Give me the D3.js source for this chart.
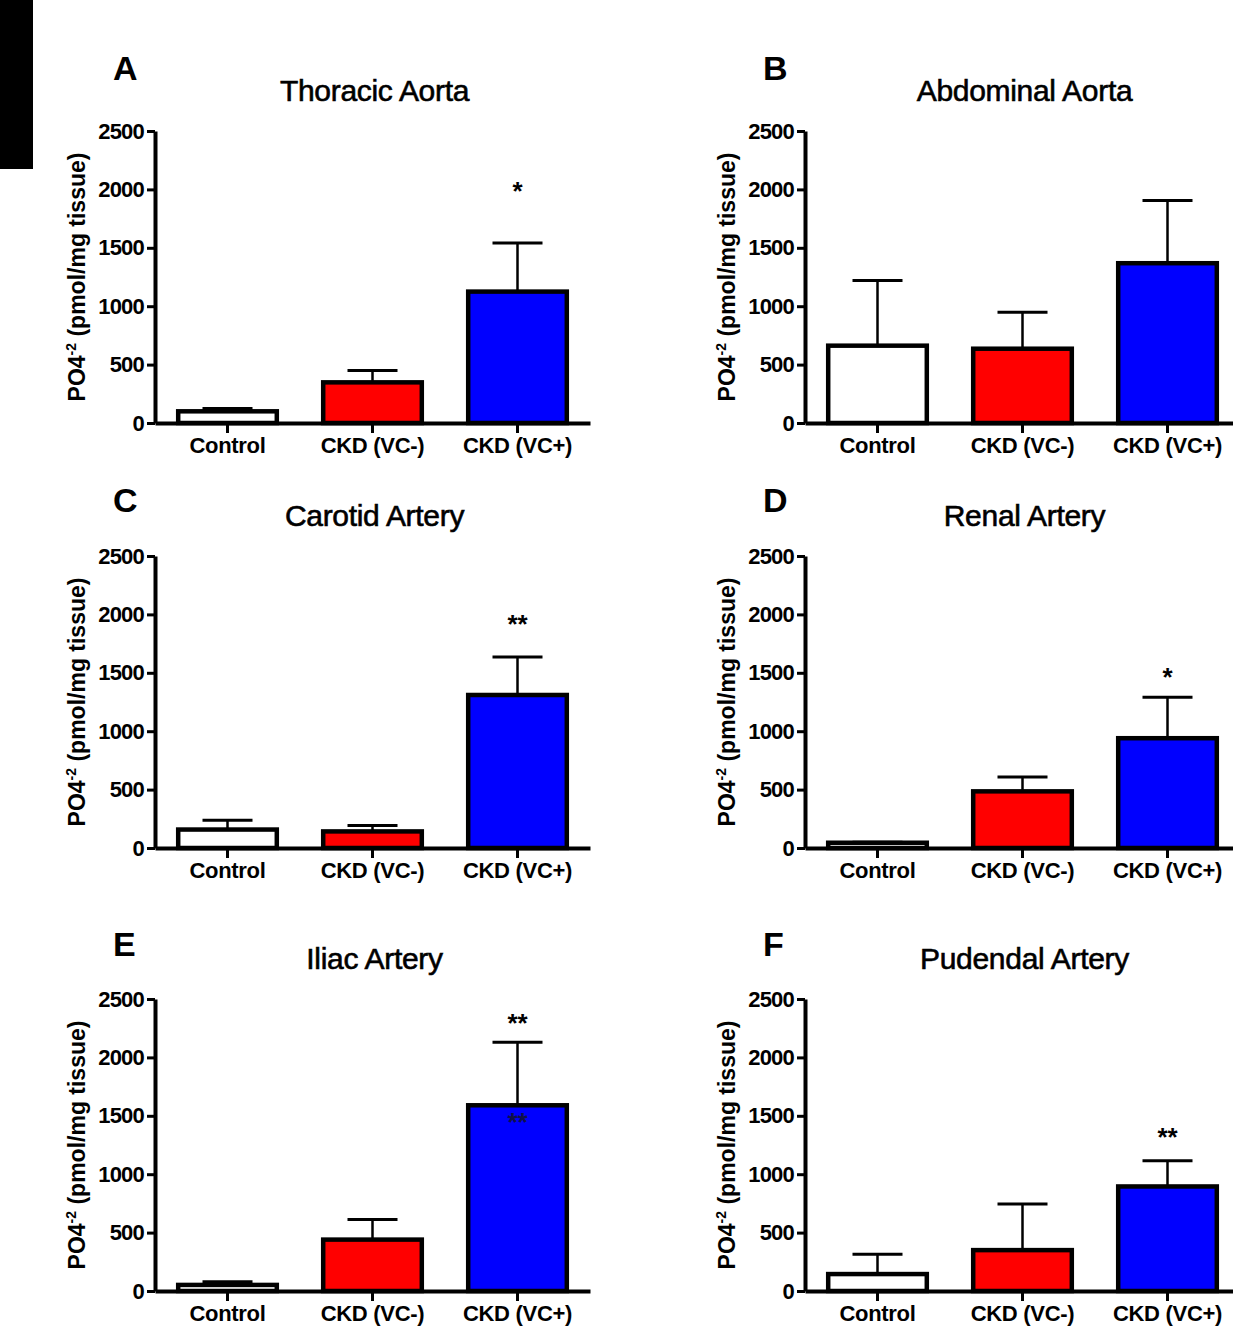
<!DOCTYPE html>
<html lang="en">
<head>
<meta charset="utf-8">
<title>PO4 content by vessel</title>
<script src="https://cdn.jsdelivr.net/npm/d3@7"></script>
<style>
  body { margin: 0; background: #fff; }
  text { font-family: "Liberation Sans", Arial, sans-serif; }
</style>
</head>
<body>
<script>
// groups and axis ticks
var categories = ["Control", "CKD (VC-)", "CKD (VC+)"];
var barColors = ["#ffffff", "#ff0000", "#0000ff"];
var yTicks = [0, 500, 1000, 1500, 2000, 2500];

var panelLetters = ["A", "B", "C", "D", "E", "F"];
var panelTitles = ["Thoracic Aorta", "Abdominal Aorta", "Carotid Artery",
                   "Renal Artery", "Iliac Artery", "Pudendal Artery"];

// mean and upper error (mean + SEM), pmol/mg tissue
var thoracicMeans = [100, 348, 1125];
var thoracicTops  = [125, 450, 1542];
var abdominalMeans = [662, 636, 1368];
var abdominalTops  = [1220, 948, 1905];
var carotidMeans = [158, 142, 1310];
var carotidTops  = [238, 193, 1635];
var renalMeans = [45, 485, 940];
var renalTops  = [50, 607, 1290];
var iliacMeans = [52, 440, 1590];
var iliacTops  = [80, 612, 2130];
var pudendalMeans = [145, 350, 895];
var pudendalTops  = [315, 745, 1115];

// significance marks, placed at a value level above CKD (VC+)
var thoracicStars = [{mark: "*", at: 2030}];
var abdominalStars = [];
var carotidStars = [{mark: "**", at: 1960}];
var renalStars = [{mark: "*", at: 1505}];
var iliacStars = [{mark: "**", at: 2335}, {mark: "**", at: 1490, inner: true}];
var pudendalStars = [{mark: "**", at: 1362}];

var panels = [
  {means: thoracicMeans, tops: thoracicTops, stars: thoracicStars},
  {means: abdominalMeans, tops: abdominalTops, stars: abdominalStars},
  {means: carotidMeans, tops: carotidTops, stars: carotidStars},
  {means: renalMeans, tops: renalTops, stars: renalStars},
  {means: iliacMeans, tops: iliacTops, stars: iliacStars},
  {means: pudendalMeans, tops: pudendalTops, stars: pudendalStars}
];

var w = 1233, h = 1329;
var colX = [155, 805];
var rowTop = [131, 556, 999];
var letterY = [80, 512, 956];
var plotW = 435, plotH = 292;

var svg = d3.select("body").append("svg")
  .attr("width", w)
  .attr("height", h);

svg.append("rect").attr("width", w).attr("height", h).attr("fill", "#fff");

// black strip at the top left
svg.append("rect")
  .attr("x", 0).attr("y", 0)
  .attr("width", 33).attr("height", 169)
  .attr("fill", "#000");

panels.forEach(function(p, i) {
  var col = i % 2, row = Math.floor(i / 2);
  var g = svg.append("g")
    .attr("transform", "translate(" + colX[col] + "," + rowTop[row] + ")");

  var x = d3.scaleBand()
    .domain(categories)
    .range([0, plotW])
    .paddingInner(0.32)
    .paddingOuter(0.16);

  var y = d3.scaleLinear()
    .domain([0, 2500])
    .range([plotH, 0]);

  var rows = categories.map(function(c, k) {
    return {cat: c, mean: p.means[k], top: p.tops[k], color: barColors[k]};
  });

  // bars
  g.selectAll("rect.bar")
    .data(rows)
    .enter()
    .append("rect")
    .attr("class", "bar")
    .attr("x", function(d) { return x(d.cat); })
    .attr("y", function(d) { return y(d.mean); })
    .attr("width", x.bandwidth())
    .attr("height", function(d) { return plotH - y(d.mean); })
    .attr("fill", function(d) { return d.color; })
    .attr("stroke", "#000")
    .attr("stroke-width", 4.5);

  // error bars (upper only)
  g.selectAll("line.stem")
    .data(rows)
    .enter()
    .append("line")
    .attr("x1", function(d) { return x(d.cat) + x.bandwidth() / 2; })
    .attr("x2", function(d) { return x(d.cat) + x.bandwidth() / 2; })
    .attr("y1", function(d) { return y(d.mean); })
    .attr("y2", function(d) { return y(d.top); })
    .attr("stroke", "#000")
    .attr("stroke-width", 2.5);

  g.selectAll("line.cap")
    .data(rows)
    .enter()
    .append("line")
    .attr("x1", function(d) { return x(d.cat) + x.bandwidth() / 2 - 25; })
    .attr("x2", function(d) { return x(d.cat) + x.bandwidth() / 2 + 25; })
    .attr("y1", function(d) { return y(d.top); })
    .attr("y2", function(d) { return y(d.top); })
    .attr("stroke", "#000")
    .attr("stroke-width", 3);

  // axes
  var yAxis = g.append("g")
    .call(d3.axisLeft(y).tickValues(yTicks).tickFormat(d3.format("d"))
      .tickSize(8).tickSizeOuter(0).tickPadding(3));
  var xAxis = g.append("g")
    .attr("transform", "translate(0," + plotH + ")")
    .call(d3.axisBottom(x).tickSize(10).tickSizeOuter(0).tickPadding(4));

  [yAxis, xAxis].forEach(function(a) {
    a.select(".domain").attr("stroke", "#000").attr("stroke-width", 4);
    a.selectAll(".tick line").attr("stroke", "#000").attr("stroke-width", 3);
    a.selectAll(".tick text")
      .attr("fill", "#000")
      .attr("font-family", "'Liberation Sans', Arial, sans-serif")
      .attr("font-weight", "bold")
      .attr("font-size", 22);
  });
  yAxis.selectAll(".tick text").attr("letter-spacing", -0.8);
  xAxis.selectAll(".tick text").attr("letter-spacing", -0.3);

  // significance marks
  g.selectAll("text.star")
    .data(p.stars)
    .enter()
    .append("text")
    .attr("x", x("CKD (VC+)") + x.bandwidth() / 2)
    .attr("y", function(d) { return y(d.at) + 14; })
    .attr("text-anchor", "middle")
    .attr("font-weight", "bold")
    .attr("font-size", 26)
    .attr("fill", function(d) { return d.inner ? "#10104a" : "#000"; })
    .text(function(d) { return d.mark; });

  // y label
  var yl = g.append("text")
    .attr("transform", "translate(-70," + (plotH / 2) + ") rotate(-90)")
    .attr("text-anchor", "middle")
    .attr("font-weight", "bold")
    .attr("font-size", 23)
    .attr("fill", "#000");
  yl.append("tspan").text("PO4");
  yl.append("tspan").attr("dy", -9).attr("font-size", 14).text("-2");
  yl.append("tspan").attr("dy", 9).text(" (pmol/mg tissue)");

  // title and panel letter
  g.append("text")
    .attr("x", plotW / 2 + 2)
    .attr("y", -30)
    .attr("text-anchor", "middle")
    .attr("font-size", 30)
    .attr("fill", "#000")
    .attr("stroke", "#000")
    .attr("stroke-width", 0.6)
    .attr("letter-spacing", -0.3)
    .text(panelTitles[i]);

  g.append("text")
    .attr("x", -42)
    .attr("y", letterY[row] - rowTop[row])
    .attr("font-weight", "bold")
    .attr("font-size", 34)
    .attr("fill", "#000")
    .text(panelLetters[i]);
});
</script>
</body>
</html>
